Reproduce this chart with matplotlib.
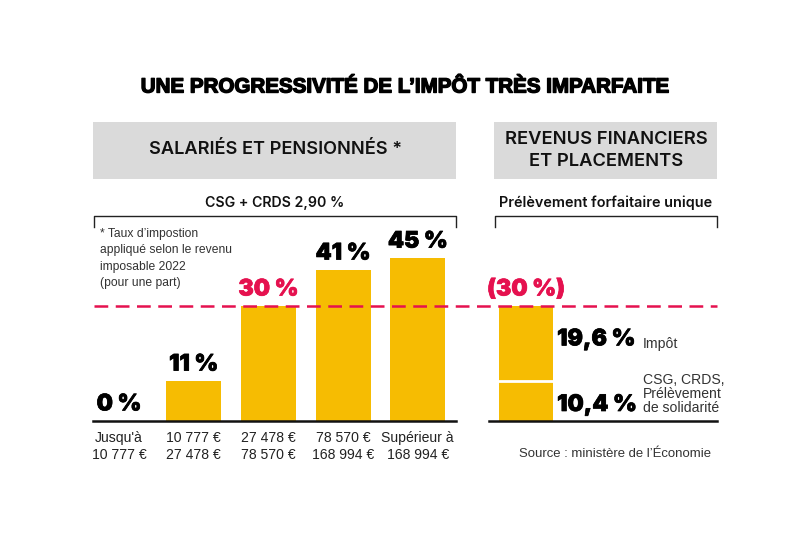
# Progressivite de l'impot : bareme IR contre prelevement forfaitaire unique
import matplotlib
matplotlib.use("Agg")
import matplotlib.pyplot as plt
import matplotlib.patheffects as pe
from matplotlib.transforms import blended_transform_factory

W, H = 808, 538
plt.rcParams['font.family'] = ['Inter', 'DejaVu Sans']
LIB = ['Liberation Sans', 'DejaVu Sans']

# hauteurs (le dessin n'est pas tout a fait a l'echelle des taux)
tranches = ["Jusqu'à\n10 777 €", "10 777 €\n27 478 €", "27 478 €\n78 570 €",
            "78 570 €\n168 994 €", "Supérieur à\n168 994 €"]
hauteurs = [0, 10.4, 30, 39.4, 42.5]
taux = ["0 %", "11 %", "30 %", "41 %", "45 %"]
couleurs_taux = ["black", "black", "#e5114f", "black", "black"]

pfu_parts = [10.4, 19.6]
pfu_labels = ["10,4 %", "19,6 %"]
pfu_notes = ["CSG, CRDS,\nPrélèvement\nde solidarité", "Impôt"]

JAUNE = "#f6bc02"
ROUGE = "#e5114f"
GRIS = "#dadada"
PX = 3.83  # pixels par point de pourcentage
Y0 = 421   # ligne de base en pixels
ECART = 74.7  # pixels entre deux barres


def make_axes(fig, left, right, top=215):
    ax = fig.add_axes([left / W, 1 - Y0 / H, (right - left) / W, (Y0 - top) / H])
    ax.set_ylim(0, (Y0 - top) / PX)
    ax.patch.set_alpha(0)
    for s in ["top", "left", "right"]:
        ax.spines[s].set_visible(False)
    ax.spines["bottom"].set_linewidth(1.8)
    ax.spines["bottom"].set_color("#111111")
    ax.set_yticks([])
    ax.tick_params(axis="x", length=0)
    return ax


def heavy(w=0.5, c="black"):
    return [pe.withStroke(linewidth=w, foreground=c)]


fig = plt.figure(figsize=(W / 100, H / 100), dpi=100, facecolor="white")

# fond en coordonnees pixels pour les bandeaux et les textes
bg = fig.add_axes([0, 0, 1, 1])
bg.set_xlim(0, W)
bg.set_ylim(H, 0)
bg.axis("off")

bg.text(404.5, 87, "UNE PROGRESSIVITÉ DE L’IMPÔT TRÈS IMPARFAITE", ha="center", va="center",
        fontsize=14.8, fontweight="bold", family=LIB,
        color="black", path_effects=heavy(1.0))

bg.fill_between([93, 456], 122, 179, color=GRIS, lw=0)
bg.fill_between([494, 717], 122, 179, color=GRIS, lw=0)
bg.text(275.5, 149.5, "SALARIÉS ET PENSIONNÉS *", ha="center", va="center",
        fontsize=13.1, fontweight="semibold", color="#111111")
bg.text(606, 150.5, "REVENUS FINANCIERS\nET PLACEMENTS", ha="center", va="center",
        fontsize=13.2, fontweight="semibold", color="#111111", linespacing=1.38)
bg.text(275, 203, "CSG + CRDS 2,90 %", ha="center", va="center",
        fontsize=10.2, fontweight="semibold", color="#111111")
bg.text(606, 203, "Prélèvement forfaitaire unique", ha="center", va="center",
        fontsize=10.4, fontweight="semibold", color="#111111")

# accolades
bg.plot([94, 94, 456, 456], [227, 216, 216, 227], color="#222222", lw=1)
bg.plot([495, 495, 717, 717], [227, 216, 216, 227], color="#222222", lw=1)

bg.text(100, 258.5, "* Taux d’impostion\nappliqué selon le revenu\nimposable 2022\n(pour une part)",
        ha="left", va="center", fontsize=8.7, family=LIB, color="#333333", linespacing=1.49)

bg.text(519, 454, "Source : ministère de l’Économie", ha="left", va="center",
        fontsize=9.45, family=LIB, color="#333333")

# barres de gauche
ax = make_axes(fig, 93, 456)
pos = list(range(len(hauteurs)))
ax.bar(pos, hauteurs, width=0.735, color=JAUNE)
ax.set_xlim(-26 / ECART, 337 / ECART)
ax.set_xticks(pos)
ax.set_xticklabels(tranches, fontsize=10.1, family=LIB, color="#222222", linespacing=1.28)
ax.tick_params(axis="x", pad=7.5)
for p, h, t, c in zip(pos, hauteurs, taux, couleurs_taux):
    ax.annotate(t, (p, h), xytext=(0, 4), textcoords="offset points", ha="center", va="bottom",
                fontsize=16.5, fontweight="black", color=c, path_effects=heavy(0.5, c))

# barre de droite
ax2 = make_axes(fig, 489, 717)
ax2.set_xlim(-37 / ECART, 191 / ECART)
ax2.bar([0], [pfu_parts[0]], width=0.725, color=JAUNE)
ax2.bar([0], [pfu_parts[1]], bottom=[pfu_parts[0]], width=0.725, color=JAUNE)
ax2.plot([-0.37, 0.37], [pfu_parts[0], pfu_parts[0]], color="white", lw=2)
ax2.set_xticks([])

tot = sum(pfu_parts)
ax2.annotate(f"({tot:.0f} %)", (0, tot), xytext=(0, 4), textcoords="offset points",
             ha="center", va="bottom", fontsize=16.5, fontweight="black", color=ROUGE,
             path_effects=heavy(0.5, ROUGE))
ax2.annotate(pfu_labels[0], (0.37, 0), xytext=(2.5, 3.6), textcoords="offset points", ha="left",
             va="bottom", fontsize=16.5, fontweight="black", path_effects=heavy(0.5))
ax2.annotate(pfu_labels[1], (0.37, pfu_parts[0] + 10.9), xytext=(2.5, 0), textcoords="offset points",
             ha="left", va="center", fontsize=16.5, fontweight="black", path_effects=heavy(0.5))
ax2.annotate(pfu_notes[0], (1.566, 0), xytext=(0, 4), textcoords="offset points", ha="left",
             va="bottom", fontsize=10.1, family=LIB, color="#333333", linespacing=1.02)
ax2.annotate(pfu_notes[1], (1.566, pfu_parts[0] + 9.6), xytext=(0, 0), textcoords="offset points",
             ha="left", va="center", fontsize=10.1, family=LIB, color="#333333")

# seuil de 30 % sur toute la largeur
ax.set_zorder(1)
ax2.set_zorder(2)
trans = blended_transform_factory(fig.transFigure, ax2.transData)
ax2.plot([94 / W, 717 / W], [30, 30], transform=trans, color=ROUGE, lw=1.8,
         dashes=(5.5, 3), clip_on=False)

fig.savefig("out.png", dpi=100, facecolor="white")
